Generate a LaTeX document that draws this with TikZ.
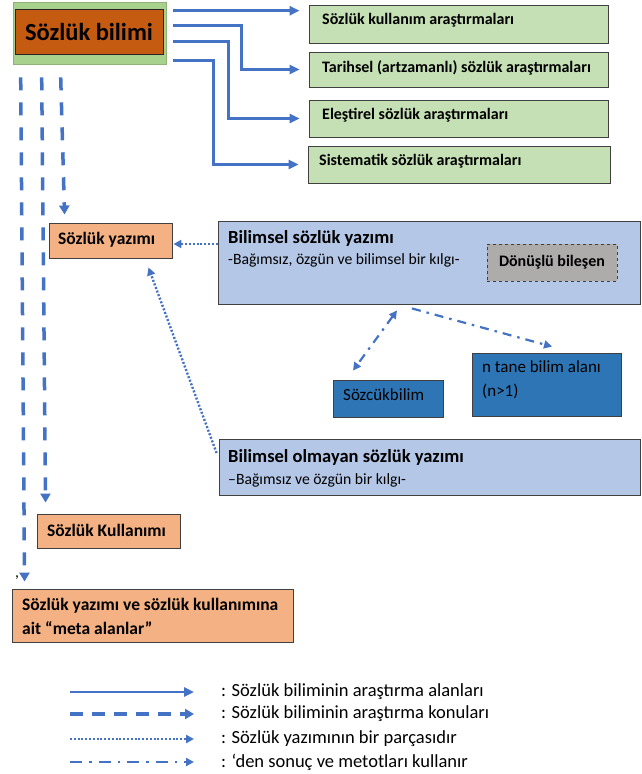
\documentclass[tikz,border=0pt]{standalone}
\usepackage{fontspec}
\setmainfont{Carlito}
\usetikzlibrary{arrows.meta,calc}
\definecolor{ablue}{HTML}{4472C4}
\definecolor{gout}{HTML}{A9D18E}
\definecolor{gbox}{HTML}{C5E0B4}
\definecolor{rbox}{HTML}{C55A11}
\definecolor{sbox}{HTML}{F4B183}
\definecolor{lblue}{HTML}{B4C7E7}
\definecolor{dblue}{HTML}{2E75B6}
\definecolor{gray1}{HTML}{AEABAB}
\begin{document}
\begin{tikzpicture}[x=1pt,y=-1pt,
 bx/.style={draw=black!75, line width=0.9pt, inner sep=0pt, rectangle},
 lbl/.style={anchor=west, inner sep=0pt, align=left},
 fk/.style={font=\fontsize{16}{19}\selectfont\bfseries},
 fo/.style={font=\fontsize{17.5}{24}\selectfont\bfseries},
 ft/.style={font=\fontsize{18.5}{22}\selectfont\bfseries},
 fsub/.style={font=\fontsize{15.7}{19}\selectfont},
 fd/.style={font=\fontsize{17}{24}\selectfont},
 fl/.style={font=\fontsize{18.5}{22}\selectfont},
 sol/.style={draw=ablue, line width=2.5pt, -{Triangle[length=10pt,width=9pt]}},
 dsh/.style={draw=ablue, line width=3.5pt, dash pattern=on 13pt off 12pt, -{Triangle[length=9pt,width=10pt]}},
 dtt/.style={draw=ablue, line width=2.4pt, dash pattern=on 2pt off 1.8pt, -{Triangle[length=8pt,width=8pt]}},
 ddt/.style={draw=ablue, line width=2.2pt, dash pattern=on 9pt off 6pt on 2.5pt off 6pt, -{Triangle[length=8pt,width=8pt]}},
]
\useasboundingbox (0,0) rectangle (641,774);

% top box
\node[rectangle, draw=gout!85!black, fill=gout, line width=0.6pt, minimum width=153pt, minimum height=62pt] (top) at (89.5,33) {};
\node[bx, fill=rbox, draw=black!85, minimum width=148pt, minimum height=45pt, font=\fontsize{24.5}{28}\selectfont\bfseries] (topin) at (89,31.5) {Sözlük bilimi};

% right green boxes
\node[bx, fill=gbox, minimum width=299pt, minimum height=38pt] (k1) at (458.5,24) {};
\node[bx, fill=gbox, minimum width=299pt, minimum height=35pt] (k2) at (458.5,69.5) {};
\node[bx, fill=gbox, minimum width=299pt, minimum height=37pt] (k3) at (458.5,118.5) {};
\node[bx, fill=gbox, minimum width=302pt, minimum height=37pt] (k4) at (459,164.5) {};
\node[lbl, fk] (k1t) at (322,20) {Sözlük kullanım araştırmaları};
\node[lbl, fk] (k2t) at (322,68) {Tarihsel (artzamanlı) sözlük araştırmaları};
\node[lbl, fk] (k3t) at (322,115) {Eleştirel sözlük araştırmaları};
\node[lbl, fk] (k4t) at (319,161) {Sistematik sözlük araştırmaları};

% solid arrows
\draw[sol, shorten >=9pt] ($(top.north east)+(7,9)$) coordinate (s1) -- (k1.west |- s1);
\draw[sol, shorten >=9pt] ($(top.north east)+(7,24)$) -- ++(68,0) |- (k2.west);
\draw[sol, shorten >=9pt] ($(top.north east)+(7,40)$) -- ++(55,0) |- (k3.west);
\draw[sol, shorten >=9pt] ($(top.north east)+(7,59)$) -- ++(40,0) |- (k4.west);

% left salmon boxes
\node[bx, fill=sbox, minimum width=123pt, minimum height=35pt] (sy) at (110.5,240.5) {};
\node[lbl, fo] (syt) at (58,240) {Sözlük yazımı};
\node[bx, fill=sbox, minimum width=143pt, minimum height=34pt] (sk) at (108.5,531) {};
\node[lbl, fo] (skt) at (47,530) {Sözlük Kullanımı};
\node[bx, fill=sbox, minimum width=281pt, minimum height=53pt] (mt) at (152.5,615.5) {};
\node[lbl, fo] (mtt) at (22,616) {Sözlük yazımı ve sözlük kullanımına\\ait “meta alanlar”};
\node[inner sep=0pt, fsub] (cm) at (17,578) {,};

% blue boxes
\node[bx, fill=lblue, minimum width=422pt, minimum height=83pt] (bsy) at (429,262.5) {};
\node[lbl, ft] (bsyt) at (228,238) {Bilimsel sözlük yazımı};
\node[lbl, fsub] (bsys) at (228,260) {-Bağımsız, özgün ve bilimsel bir kılgı-};
\node[bx, fill=gray1, dashed, minimum width=130pt, minimum height=37pt, font=\fontsize{16}{19}\selectfont\bfseries] (don) at (552,262.5) {Dönüşlü bileşen};

\node[bx, fill=dblue, minimum width=110pt, minimum height=37pt] (sz) at (388,398.5) {};
\node[lbl, fd] (szt) at (343,395) {Sözcükbilim};
\node[bx, fill=dblue, minimum width=149pt, minimum height=63pt] (nt) at (546.5,384.5) {};
\node[lbl, fd] (ntt) at (482,380) {n tane bilim alanı\\(n>1)};

\node[bx, fill=lblue, minimum width=421pt, minimum height=56pt] (bos) at (429.5,467) {};
\node[lbl, ft] (bost) at (228,457) {Bilimsel olmayan sözlük yazımı};
\node[lbl, fsub] (boss) at (228,480) {–Bağımsız ve özgün bir kılgı-};

% dashed arrows
\draw[dsh] ($(top.south west)+(8,13)$) -- ($(mt.north west)+(13,-7)$);
\draw[dsh] ($(top.south west)+(29,13)$) -- ($(sk.north west)+(9,-11)$);
\draw[dsh] ($(top.south west)+(48,13)$) -- ($(sy.north west)+(16,-8)$);

% dotted arrows
\draw[dtt] ($(bsy.west)+(0,-18.5)$) -- ($(sy.east)+(1,3.5)$);
\draw[dtt] ($(bos.west)+(-2,-14)$) -- ($(sy.south east)+(-24,9)$);

% dash-dot arrows
\draw[ddt, {Triangle[length=8pt,width=8pt]}-{Triangle[length=8pt,width=8pt]}] ($(bsy.south)+(-32,6)$) -- ($(sz.north)+(-35,-9)$);
\draw[ddt] ($(bsy.south)+(-17,4)$) -- ($(nt.north)+(5.5,-6)$);

% legend
\coordinate (la1) at (70,692); \coordinate (lb1) at (194,692);
\coordinate (la2) at (70,714); \coordinate (lb2) at (194,714);
\coordinate (la3) at (70,739); \coordinate (lb3) at (194,739);
\coordinate (la4) at (70,762); \coordinate (lb4) at (194,762);
\draw[sol] (la1) -- (lb1);
\draw[dsh, dash pattern=on 13pt off 9pt] (la2) -- (lb2);
\draw[dtt] (la3) -- (lb3);
\draw[ddt, dash pattern=on 12pt off 7pt on 2.5pt off 7pt] (la4) -- (lb4);
\node[lbl, fl] (lt1) at (221,692) {: Sözlük biliminin araştırma alanları};
\node[lbl, fl] (lt2) at (221,714) {: Sözlük biliminin araştırma konuları};
\node[lbl, fl] (lt3) at (221,739) {: Sözlük yazımının bir parçasıdır};
\node[lbl, fl] (lt4) at (221,762) {: ‘den sonuç ve metotları kullanır};
\end{tikzpicture}
\end{document}
